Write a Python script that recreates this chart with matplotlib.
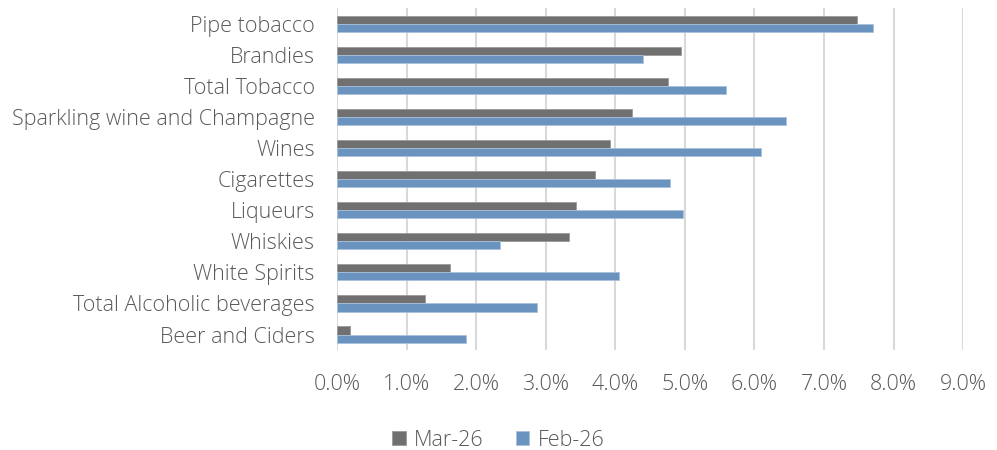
import matplotlib.pyplot as plt
import numpy as np
from matplotlib.ticker import FuncFormatter

# data (top to bottom as shown)
categories = ['Pipe tobacco', 'Brandies', 'Total Tobacco', 'Sparkling wine and Champagne',
              'Wines', 'Cigarettes', 'Liqueurs', 'Whiskies', 'White Spirits',
              'Total Alcoholic beverages', 'Beer and Ciders']
mar26 = [7.48, 4.95, 4.76, 4.24, 3.93, 3.71, 3.43, 3.34, 1.62, 1.26, 0.19]
feb26 = [7.70, 4.40, 5.59, 6.45, 6.09, 4.78, 4.98, 2.35, 4.05, 2.87, 1.85]

plt.rcParams['font.family'] = ['Open Sans', 'DejaVu Sans']
plt.rcParams['font.weight'] = 'light'

fig = plt.figure(figsize=(9.97, 4.5), dpi=100)
ax = fig.add_axes([0.338, 0.222, 0.628, 0.76])

n = len(categories)
y = np.arange(n)[::-1]
h = 0.26
txt = '#595959'
fs = 15.5

ax.barh(y + h/2, mar26, height=h, color='#707070', edgecolor='#9a9a9a', linewidth=0.6, label='Mar-26', zorder=3)
ax.barh(y - h/2, feb26, height=h, color='#6b93c0', edgecolor='#a9c1dc', linewidth=0.6, label='Feb-26', zorder=3)

ax.set_xlim(0, 9)
ax.set_ylim(-0.5, n - 0.5)
ax.set_xticks(np.arange(0, 10, 1))
ax.xaxis.set_major_formatter(FuncFormatter(lambda v, p: '%.1f%%' % v))
ax.set_yticks(y)
ax.set_yticklabels(categories)
ax.grid(axis='x', color='#d9d9d9', linewidth=1.5, zorder=0)
for s in ax.spines.values():
    s.set_visible(False)
ax.tick_params(axis='both', length=0, labelsize=fs, labelcolor=txt)
ax.tick_params(axis='x', pad=17)
ax.tick_params(axis='y', pad=16)

fig.legend(loc='lower center', bbox_to_anchor=(0.5, -0.045), ncol=2, frameon=False,
           fontsize=fs, labelcolor=txt, handlelength=0.62, handleheight=0.62,
           handletextpad=0.4, columnspacing=1.5)

fig.savefig('out.png', dpi=100)
